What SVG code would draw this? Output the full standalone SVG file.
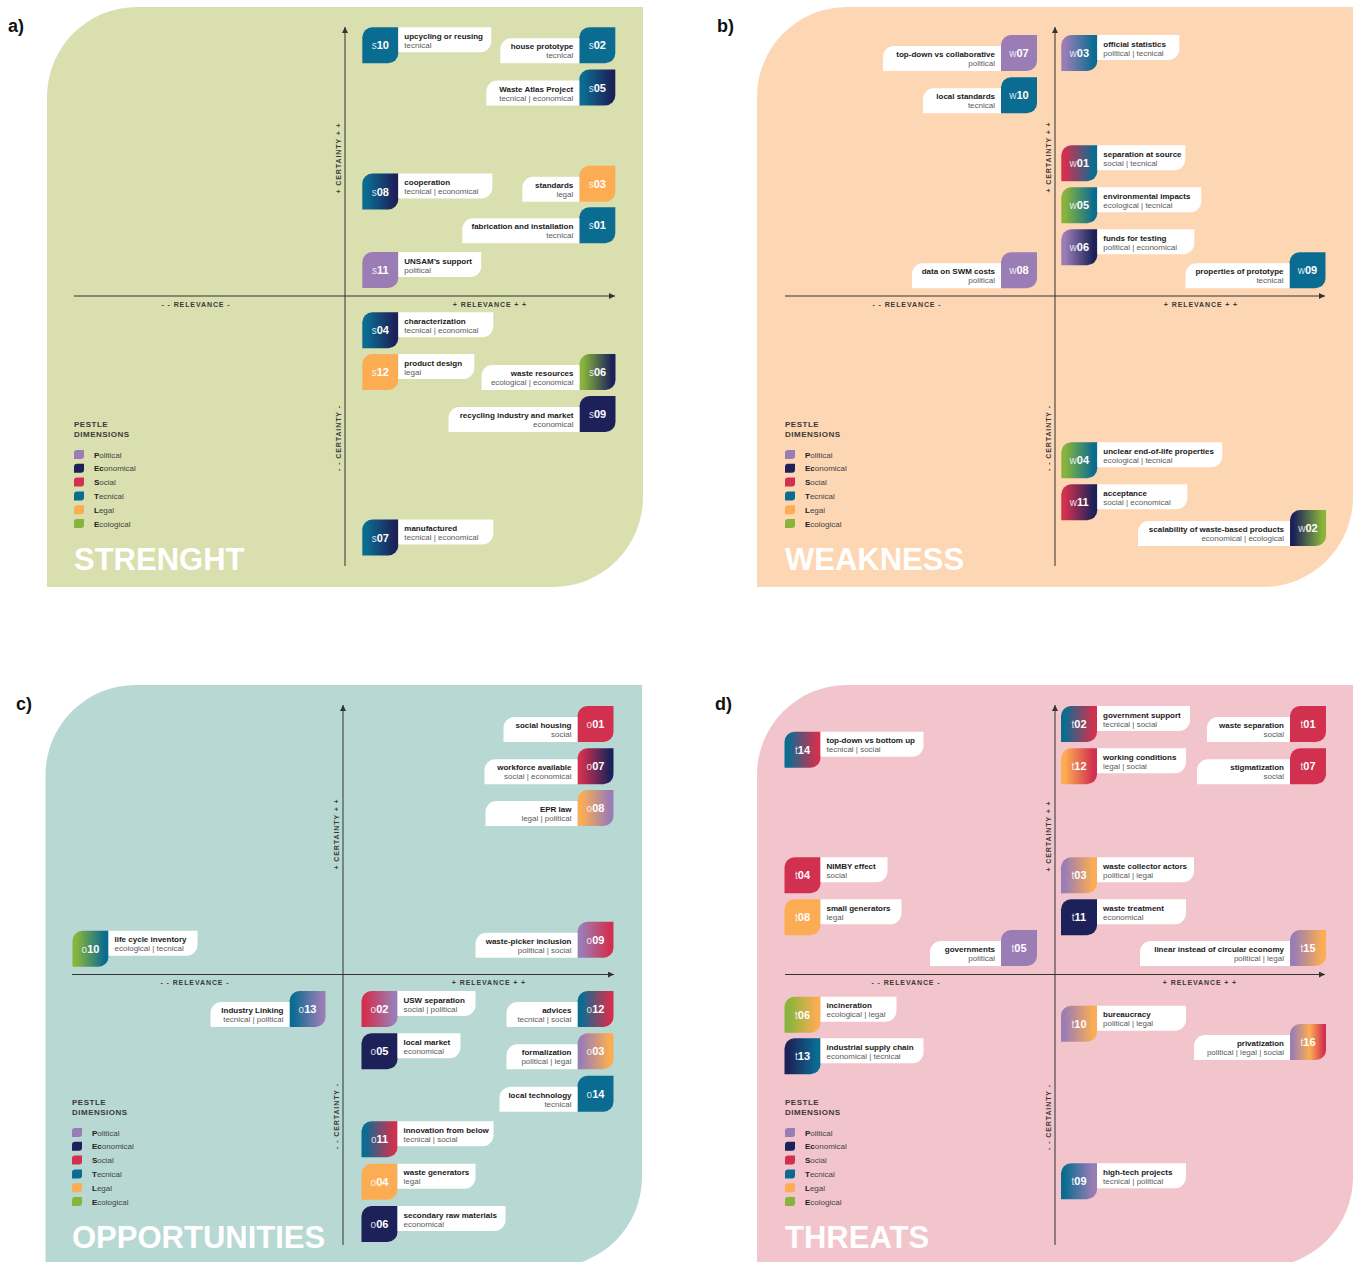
<svg xmlns="http://www.w3.org/2000/svg" xmlns:xlink="http://www.w3.org/1999/xlink" width="1356" height="1262" viewBox="0 0 1356 1262">
<style>
text{font-family:"Liberation Sans",Arial,sans-serif}
.P{fill:#9a7db5}.E{fill:#1c2259}.S{fill:#d2304f}.T{fill:#0b6c92}.L{fill:#fcad53}.G{fill:#88b43c}
.gTE{fill:url(#gTE)}.gGE{fill:url(#gGE)}.gPT{fill:url(#gPT)}.gST{fill:url(#gST)}.gGT{fill:url(#gGT)}.gPE{fill:url(#gPE)}.gSE{fill:url(#gSE)}.gEG{fill:url(#gEG)}.gLP{fill:url(#gLP)}.gPS{fill:url(#gPS)}.gTP{fill:url(#gTP)}.gSP{fill:url(#gSP)}.gTS{fill:url(#gTS)}.gPL{fill:url(#gPL)}.gLS{fill:url(#gLS)}.gGL{fill:url(#gGL)}.gET{fill:url(#gET)}.gPLS{fill:url(#gPLS)}
.lb{fill:#fff}
.t1{font-size:8px;font-weight:bold;fill:#1a1a1a}
.t2{font-size:8px;fill:#5a5a5a}
.r{text-anchor:end}
.bt{font-size:11px;font-weight:bold;fill:#fff;text-anchor:middle}
.bp{font-weight:normal;font-size:10px;fill-opacity:.85}
.ax{stroke:#333;stroke-width:1;fill:none}
.al{font-size:7px;font-weight:bold;fill:#3a3a3a;letter-spacing:.9px;text-anchor:middle}
.lh{font-size:8px;font-weight:bold;fill:#3a3a3a;letter-spacing:.5px}
.li{font-size:8px;fill:#444}
.li tspan{font-weight:bold;fill:#222}
.ttl{font-size:31px;font-weight:bold;fill:#fff}
.pl{font-size:18px;font-weight:bold;fill:#111}
</style>
<defs>
<path id="bd" d="M10,0H36V26A10,10 0 0 1 26,36H0V10A10,10 0 0 1 10,0Z"/>
<path id="lq" d="M3,0H10V6A3,3 0 0 1 7,9H0V3A3,3 0 0 1 3,0Z"/>
<marker id="ar" markerWidth="7" markerHeight="6" refX="6" refY="3" orient="auto" markerUnits="userSpaceOnUse"><path d="M0,0L6,3L0,6Z" fill="#333"/></marker>
<linearGradient id="gTE"><stop offset=".1" stop-color="#0b6c92"/><stop offset=".9" stop-color="#1c2259"/></linearGradient>
<linearGradient id="gGE"><stop offset=".1" stop-color="#88b43c"/><stop offset=".9" stop-color="#1c2259"/></linearGradient>
<linearGradient id="gPT"><stop offset=".1" stop-color="#9a7db5"/><stop offset=".9" stop-color="#0b6c92"/></linearGradient>
<linearGradient id="gST"><stop offset=".1" stop-color="#d2304f"/><stop offset=".9" stop-color="#0b6c92"/></linearGradient>
<linearGradient id="gGT"><stop offset=".1" stop-color="#88b43c"/><stop offset=".9" stop-color="#0b6c92"/></linearGradient>
<linearGradient id="gPE"><stop offset=".1" stop-color="#9a7db5"/><stop offset=".9" stop-color="#1c2259"/></linearGradient>
<linearGradient id="gSE"><stop offset=".1" stop-color="#d2304f"/><stop offset=".9" stop-color="#1c2259"/></linearGradient>
<linearGradient id="gEG"><stop offset=".1" stop-color="#1c2259"/><stop offset=".9" stop-color="#88b43c"/></linearGradient>
<linearGradient id="gLP"><stop offset=".1" stop-color="#fcad53"/><stop offset=".9" stop-color="#9a7db5"/></linearGradient>
<linearGradient id="gPS"><stop offset=".1" stop-color="#9a7db5"/><stop offset=".9" stop-color="#d2304f"/></linearGradient>
<linearGradient id="gTP"><stop offset=".1" stop-color="#0b6c92"/><stop offset=".9" stop-color="#9a7db5"/></linearGradient>
<linearGradient id="gSP"><stop offset=".1" stop-color="#d2304f"/><stop offset=".9" stop-color="#9a7db5"/></linearGradient>
<linearGradient id="gTS"><stop offset=".1" stop-color="#0b6c92"/><stop offset=".9" stop-color="#d2304f"/></linearGradient>
<linearGradient id="gPL"><stop offset=".1" stop-color="#9a7db5"/><stop offset=".9" stop-color="#fcad53"/></linearGradient>
<linearGradient id="gLS"><stop offset=".1" stop-color="#fcad53"/><stop offset=".9" stop-color="#d2304f"/></linearGradient>
<linearGradient id="gGL"><stop offset=".1" stop-color="#88b43c"/><stop offset=".9" stop-color="#fcad53"/></linearGradient>
<linearGradient id="gET"><stop offset=".1" stop-color="#1c2259"/><stop offset=".9" stop-color="#0b6c92"/></linearGradient>
<linearGradient id="gPLS"><stop offset=".05" stop-color="#9a7db5"/><stop offset=".55" stop-color="#fcad53"/><stop offset=".95" stop-color="#d2304f"/></linearGradient>
</defs>
<rect width="1356" height="1262" fill="#fff"/>

<g id="panels">
<path fill="#d9dfae" d="M47,97A90,90 0 0 1 137,7H643V497A90,90 0 0 1 553,587H47Z"/>
<path fill="#fdd6b4" d="M757,97A90,90 0 0 1 847,7H1353V497A90,90 0 0 1 1263,587H757Z"/>
<path fill="#b8d8d3" d="M45.5,775A90,90 0 0 1 135.5,685H642V1177A90,90 0 0 1 552,1267H45.5Z"/>
<path fill="#f2c4cb" d="M757,775A90,90 0 0 1 847,685H1353V1177A90,90 0 0 1 1263,1267H757Z"/>
<text class="pl" x="8" y="32">a)</text>
<text class="pl" x="717" y="32">b)</text>
<text class="pl" x="16" y="710">c)</text>
<text class="pl" x="715" y="710">d)</text>
<text class="ttl" x="74" y="570">STRENGHT</text>
<text class="ttl" x="785" y="570">WEAKNESS</text>
<text class="ttl" x="72" y="1248">OPPORTUNITIES</text>
<text class="ttl" x="785" y="1248">THREATS</text>
</g>

<g id="axes">
<line class="ax" x1="345" y1="566" x2="345" y2="27" marker-end="url(#ar)"/>
<line class="ax" x1="74" y1="296" x2="615" y2="296" marker-end="url(#ar)"/>
<line class="ax" x1="1055" y1="566" x2="1055" y2="27" marker-end="url(#ar)"/>
<line class="ax" x1="785" y1="296" x2="1325" y2="296" marker-end="url(#ar)"/>
<line class="ax" x1="343" y1="1245" x2="343" y2="705" marker-end="url(#ar)"/>
<line class="ax" x1="72" y1="974.5" x2="614" y2="974.5" marker-end="url(#ar)"/>
<line class="ax" x1="1055" y1="1245" x2="1055" y2="705" marker-end="url(#ar)"/>
<line class="ax" x1="785" y1="974.5" x2="1325" y2="974.5" marker-end="url(#ar)"/>
</g>

<g id="axis-labels">
<text class="al" x="196" y="306.5">- - RELEVANCE -</text>
<text class="al" x="490" y="306.5">+ RELEVANCE + +</text>
<text class="al" transform="translate(341,158) rotate(-90)">+ CERTAINTY + +</text>
<text class="al" transform="translate(341,438) rotate(-90)">- - CERTAINTY -</text>
<text class="al" x="907" y="306.5">- - RELEVANCE -</text>
<text class="al" x="1201" y="306.5">+ RELEVANCE + +</text>
<text class="al" transform="translate(1051,157) rotate(-90)">+ CERTAINTY + +</text>
<text class="al" transform="translate(1051,438) rotate(-90)">- - CERTAINTY -</text>
<text class="al" x="195" y="984.5">- - RELEVANCE -</text>
<text class="al" x="489" y="984.5">+ RELEVANCE + +</text>
<text class="al" transform="translate(339,834) rotate(-90)">+ CERTAINTY + +</text>
<text class="al" transform="translate(339,1116) rotate(-90)">- - CERTAINTY -</text>
<text class="al" x="906" y="984.5">- - RELEVANCE -</text>
<text class="al" x="1200" y="984.5">+ RELEVANCE + +</text>
<text class="al" transform="translate(1051,836) rotate(-90)">+ CERTAINTY + +</text>
<text class="al" transform="translate(1051,1117) rotate(-90)">- - CERTAINTY -</text>
</g>

<g id="legend-a" transform="translate(74,0)">
<text class="lh" x="0" y="427">PESTLE</text><text class="lh" x="0" y="436.5">DIMENSIONS</text>
<use href="#lq" class="P" y="450"/><text class="li" x="20" y="457.5"><tspan>P</tspan>olitical</text>
<use href="#lq" class="E" y="463.8"/><text class="li" x="20" y="471.3"><tspan>Ec</tspan>onomical</text>
<use href="#lq" class="S" y="477.6"/><text class="li" x="20" y="485.1"><tspan>S</tspan>ocial</text>
<use href="#lq" class="T" y="491.4"/><text class="li" x="20" y="498.9"><tspan>T</tspan>ecnical</text>
<use href="#lq" class="L" y="505.2"/><text class="li" x="20" y="512.7"><tspan>L</tspan>egal</text>
<use href="#lq" class="G" y="519"/><text class="li" x="20" y="526.5"><tspan>E</tspan>cological</text>
</g>
<g id="legend-b" transform="translate(785,0)">
<text class="lh" x="0" y="427">PESTLE</text><text class="lh" x="0" y="436.5">DIMENSIONS</text>
<use href="#lq" class="P" y="450"/><text class="li" x="20" y="457.5"><tspan>P</tspan>olitical</text>
<use href="#lq" class="E" y="463.8"/><text class="li" x="20" y="471.3"><tspan>Ec</tspan>onomical</text>
<use href="#lq" class="S" y="477.6"/><text class="li" x="20" y="485.1"><tspan>S</tspan>ocial</text>
<use href="#lq" class="T" y="491.4"/><text class="li" x="20" y="498.9"><tspan>T</tspan>ecnical</text>
<use href="#lq" class="L" y="505.2"/><text class="li" x="20" y="512.7"><tspan>L</tspan>egal</text>
<use href="#lq" class="G" y="519"/><text class="li" x="20" y="526.5"><tspan>E</tspan>cological</text>
</g>
<g id="legend-c" transform="translate(72,678)">
<text class="lh" x="0" y="427">PESTLE</text><text class="lh" x="0" y="436.5">DIMENSIONS</text>
<use href="#lq" class="P" y="450"/><text class="li" x="20" y="457.5"><tspan>P</tspan>olitical</text>
<use href="#lq" class="E" y="463.8"/><text class="li" x="20" y="471.3"><tspan>Ec</tspan>onomical</text>
<use href="#lq" class="S" y="477.6"/><text class="li" x="20" y="485.1"><tspan>S</tspan>ocial</text>
<use href="#lq" class="T" y="491.4"/><text class="li" x="20" y="498.9"><tspan>T</tspan>ecnical</text>
<use href="#lq" class="L" y="505.2"/><text class="li" x="20" y="512.7"><tspan>L</tspan>egal</text>
<use href="#lq" class="G" y="519"/><text class="li" x="20" y="526.5"><tspan>E</tspan>cological</text>
</g>
<g id="legend-d" transform="translate(785,678)">
<text class="lh" x="0" y="427">PESTLE</text><text class="lh" x="0" y="436.5">DIMENSIONS</text>
<use href="#lq" class="P" y="450"/><text class="li" x="20" y="457.5"><tspan>P</tspan>olitical</text>
<use href="#lq" class="E" y="463.8"/><text class="li" x="20" y="471.3"><tspan>Ec</tspan>onomical</text>
<use href="#lq" class="S" y="477.6"/><text class="li" x="20" y="485.1"><tspan>S</tspan>ocial</text>
<use href="#lq" class="T" y="491.4"/><text class="li" x="20" y="498.9"><tspan>T</tspan>ecnical</text>
<use href="#lq" class="L" y="505.2"/><text class="li" x="20" y="512.7"><tspan>L</tspan>egal</text>
<use href="#lq" class="G" y="519"/><text class="li" x="20" y="526.5"><tspan>E</tspan>cological</text>
</g>

<!-- Panel a: STRENGHT -->
<g id="s10" transform="translate(362.3,27.3)"><use href="#bd" class="T"/><path class="lb" d="M36,0H129V14A11,11 0 0 1 118,25H36Z"/><text class="bt" x="18" y="22"><tspan class="bp">s</tspan>10</text><text class="t1" x="42" y="11.5">upcycling or reusing</text><text class="t2" x="42" y="20.5">tecnical</text></g>
<g id="s02" transform="translate(579.3,27.3)"><use href="#bd" class="T"/><path class="lb" d="M-68,11H0V36H-79V22A11,11 0 0 1 -68,11Z"/><text class="bt" x="18" y="22"><tspan class="bp">s</tspan>02</text><text class="t1 r" x="-6" y="22">house prototype</text><text class="t2 r" x="-6" y="31">tecnical</text></g>
<g id="s05" transform="translate(579.3,69.5)"><use href="#bd" class="gTE"/><path class="lb" d="M-82,11H0V36H-93V22A11,11 0 0 1 -82,11Z"/><text class="bt" x="18" y="22"><tspan class="bp">s</tspan>05</text><text class="t1 r" x="-6" y="22">Waste Atlas Project</text><text class="t2 r" x="-6" y="31">tecnical | economical</text></g>
<g id="s08" transform="translate(362.3,173.5)"><use href="#bd" class="gTE"/><path class="lb" d="M36,0H130V14A11,11 0 0 1 119,25H36Z"/><text class="bt" x="18" y="22"><tspan class="bp">s</tspan>08</text><text class="t1" x="42" y="11.5">cooperation</text><text class="t2" x="42" y="20.5">tecnical | economical</text></g>
<g id="s03" transform="translate(579.3,165.7)"><use href="#bd" class="L"/><path class="lb" d="M-46,11H0V36H-57V22A11,11 0 0 1 -46,11Z"/><text class="bt" x="18" y="22"><tspan class="bp">s</tspan>03</text><text class="t1 r" x="-6" y="22">standards</text><text class="t2 r" x="-6" y="31">legal</text></g>
<g id="s01" transform="translate(579.3,207.3)"><use href="#bd" class="T"/><path class="lb" d="M-106,11H0V36H-117V22A11,11 0 0 1 -106,11Z"/><text class="bt" x="18" y="22"><tspan class="bp">s</tspan>01</text><text class="t1 r" x="-6" y="22">fabrication and installation</text><text class="t2 r" x="-6" y="31">tecnical</text></g>
<g id="s11" transform="translate(362.3,252)"><use href="#bd" class="P"/><path class="lb" d="M36,0H119V14A11,11 0 0 1 108,25H36Z"/><text class="bt" x="18" y="22"><tspan class="bp">s</tspan>11</text><text class="t1" x="42" y="11.5">UNSAM’s support</text><text class="t2" x="42" y="20.5">political</text></g>
<g id="s04" transform="translate(362.3,312.3)"><use href="#bd" class="gTE"/><path class="lb" d="M36,0H131V14A11,11 0 0 1 120,25H36Z"/><text class="bt" x="18" y="22"><tspan class="bp">s</tspan>04</text><text class="t1" x="42" y="11.5">characterization</text><text class="t2" x="42" y="20.5">tecnical | economical</text></g>
<g id="s12" transform="translate(362.3,354)"><use href="#bd" class="L"/><path class="lb" d="M36,0H112V14A11,11 0 0 1 101,25H36Z"/><text class="bt" x="18" y="22"><tspan class="bp">s</tspan>12</text><text class="t1" x="42" y="11.5">product design</text><text class="t2" x="42" y="20.5">legal</text></g>
<g id="s06" transform="translate(579.5,354)"><use href="#bd" class="gGE"/><path class="lb" d="M-87,11H0V36H-98V22A11,11 0 0 1 -87,11Z"/><text class="bt" x="18" y="22"><tspan class="bp">s</tspan>06</text><text class="t1 r" x="-6" y="22">waste resources</text><text class="t2 r" x="-6" y="31">ecological | economical</text></g>
<g id="s09" transform="translate(579.5,396)"><use href="#bd" class="E"/><path class="lb" d="M-120,11H0V36H-131V22A11,11 0 0 1 -120,11Z"/><text class="bt" x="18" y="22"><tspan class="bp">s</tspan>09</text><text class="t1 r" x="-6" y="22">recycling industry and market</text><text class="t2 r" x="-6" y="31">economical</text></g>
<g id="s07" transform="translate(362.3,519.5)"><use href="#bd" class="gTE"/><path class="lb" d="M36,0H131V14A11,11 0 0 1 120,25H36Z"/><text class="bt" x="18" y="22"><tspan class="bp">s</tspan>07</text><text class="t1" x="42" y="11.5">manufactured</text><text class="t2" x="42" y="20.5">tecnical | economical</text></g>

<!-- Panel b: WEAKNESS -->
<g id="w07" transform="translate(1001,35)"><use href="#bd" class="P"/><path class="lb" d="M-107,11H0V36H-118V22A11,11 0 0 1 -107,11Z"/><text class="bt" x="18" y="22"><tspan class="bp">w</tspan>07</text><text class="t1 r" x="-6" y="22">top-down vs collaborative</text><text class="t2 r" x="-6" y="31">political</text></g>
<g id="w10" transform="translate(1001,77.3)"><use href="#bd" class="T"/><path class="lb" d="M-67,11H0V36H-78V22A11,11 0 0 1 -67,11Z"/><text class="bt" x="18" y="22"><tspan class="bp">w</tspan>10</text><text class="t1 r" x="-6" y="22">local standards</text><text class="t2 r" x="-6" y="31">tecnical</text></g>
<g id="w08" transform="translate(1001,252.3)"><use href="#bd" class="P"/><path class="lb" d="M-78,11H0V36H-89V22A11,11 0 0 1 -78,11Z"/><text class="bt" x="18" y="22"><tspan class="bp">w</tspan>08</text><text class="t1 r" x="-6" y="22">data on SWM costs</text><text class="t2 r" x="-6" y="31">political</text></g>
<g id="w03" transform="translate(1061.3,35)"><use href="#bd" class="gPT"/><path class="lb" d="M36,0H118V14A11,11 0 0 1 107,25H36Z"/><text class="bt" x="18" y="22"><tspan class="bp">w</tspan>03</text><text class="t1" x="42" y="11.5">official statistics</text><text class="t2" x="42" y="20.5">political | tecnical</text></g>
<g id="w01" transform="translate(1061.3,145.3)"><use href="#bd" class="gST"/><path class="lb" d="M36,0H124V14A11,11 0 0 1 113,25H36Z"/><text class="bt" x="18" y="22"><tspan class="bp">w</tspan>01</text><text class="t1" x="42" y="11.5">separation at source</text><text class="t2" x="42" y="20.5">social | tecnical</text></g>
<g id="w05" transform="translate(1061.3,187.3)"><use href="#bd" class="gGT"/><path class="lb" d="M36,0H140V14A11,11 0 0 1 129,25H36Z"/><text class="bt" x="18" y="22"><tspan class="bp">w</tspan>05</text><text class="t1" x="42" y="11.5">environmental impacts</text><text class="t2" x="42" y="20.5">ecological | tecnical</text></g>
<g id="w06" transform="translate(1061.3,229.3)"><use href="#bd" class="gPE"/><path class="lb" d="M36,0H133V14A11,11 0 0 1 122,25H36Z"/><text class="bt" x="18" y="22"><tspan class="bp">w</tspan>06</text><text class="t1" x="42" y="11.5">funds for testing</text><text class="t2" x="42" y="20.5">political | economical</text></g>
<g id="w09" transform="translate(1289.5,252.3)"><use href="#bd" class="T"/><path class="lb" d="M-93,11H0V36H-104V22A11,11 0 0 1 -93,11Z"/><text class="bt" x="18" y="22"><tspan class="bp">w</tspan>09</text><text class="t1 r" x="-6" y="22">properties of prototype</text><text class="t2 r" x="-6" y="31">tecnical</text></g>
<g id="w04" transform="translate(1061.3,442.3)"><use href="#bd" class="gGT"/><path class="lb" d="M36,0H161V14A11,11 0 0 1 150,25H36Z"/><text class="bt" x="18" y="22"><tspan class="bp">w</tspan>04</text><text class="t1" x="42" y="11.5">unclear end-of-life properties</text><text class="t2" x="42" y="20.5">ecological | tecnical</text></g>
<g id="w11" transform="translate(1061.3,484.3)"><use href="#bd" class="gSE"/><path class="lb" d="M36,0H126V14A11,11 0 0 1 115,25H36Z"/><text class="bt" x="18" y="22"><tspan class="bp">w</tspan>11</text><text class="t1" x="42" y="11.5">acceptance</text><text class="t2" x="42" y="20.5">social | economical</text></g>
<g id="w02" transform="translate(1290,510)"><use href="#bd" class="gEG"/><path class="lb" d="M-141,11H0V36H-152V22A11,11 0 0 1 -141,11Z"/><text class="bt" x="18" y="22"><tspan class="bp">w</tspan>02</text><text class="t1 r" x="-6" y="22">scalability of waste-based products</text><text class="t2 r" x="-6" y="31">economical | ecological</text></g>

<!-- Panel c: OPPORTUNITIES -->
<g id="o01" transform="translate(577.5,706)"><use href="#bd" class="S"/><path class="lb" d="M-63,11H0V36H-74V22A11,11 0 0 1 -63,11Z"/><text class="bt" x="18" y="22"><tspan class="bp">o</tspan>01</text><text class="t1 r" x="-6" y="22">social housing</text><text class="t2 r" x="-6" y="31">social</text></g>
<g id="o07" transform="translate(577.5,748.3)"><use href="#bd" class="gSE"/><path class="lb" d="M-82,11H0V36H-93V22A11,11 0 0 1 -82,11Z"/><text class="bt" x="18" y="22"><tspan class="bp">o</tspan>07</text><text class="t1 r" x="-6" y="22">workforce available</text><text class="t2 r" x="-6" y="31">social | economical</text></g>
<g id="o08" transform="translate(577.5,790)"><use href="#bd" class="gLP"/><path class="lb" d="M-81,11H0V36H-92V22A11,11 0 0 1 -81,11Z"/><text class="bt" x="18" y="22"><tspan class="bp">o</tspan>08</text><text class="t1 r" x="-6" y="22">EPR law</text><text class="t2 r" x="-6" y="31">legal | political</text></g>
<g id="o09" transform="translate(577.5,921.7)"><use href="#bd" class="gPS"/><path class="lb" d="M-91,11H0V36H-102V22A11,11 0 0 1 -91,11Z"/><text class="bt" x="18" y="22"><tspan class="bp">o</tspan>09</text><text class="t1 r" x="-6" y="22">waste-picker inclusion</text><text class="t2 r" x="-6" y="31">political | social</text></g>
<g id="o10" transform="translate(72.5,930.7)"><use href="#bd" class="gGT"/><path class="lb" d="M36,0H125V14A11,11 0 0 1 114,25H36Z"/><text class="bt" x="18" y="22"><tspan class="bp">o</tspan>10</text><text class="t1" x="42" y="11.5">life cycle inventory</text><text class="t2" x="42" y="20.5">ecological | tecnical</text></g>
<g id="o13" transform="translate(289.5,991)"><use href="#bd" class="gTP"/><path class="lb" d="M-68,11H0V36H-79V22A11,11 0 0 1 -68,11Z"/><text class="bt" x="18" y="22"><tspan class="bp">o</tspan>13</text><text class="t1 r" x="-6" y="22">Industry Linking</text><text class="t2 r" x="-6" y="31">tecnical | political</text></g>
<g id="o02" transform="translate(361.5,991)"><use href="#bd" class="gSP"/><path class="lb" d="M36,0H114V14A11,11 0 0 1 103,25H36Z"/><text class="bt" x="18" y="22"><tspan class="bp">o</tspan>02</text><text class="t1" x="42" y="11.5">USW separation</text><text class="t2" x="42" y="20.5">social | political</text></g>
<g id="o12" transform="translate(577.5,991)"><use href="#bd" class="gTS"/><path class="lb" d="M-60,11H0V36H-71V22A11,11 0 0 1 -60,11Z"/><text class="bt" x="18" y="22"><tspan class="bp">o</tspan>12</text><text class="t1 r" x="-6" y="22">advices</text><text class="t2 r" x="-6" y="31">tecnical | social</text></g>
<g id="o05" transform="translate(361.5,1033.3)"><use href="#bd" class="E"/><path class="lb" d="M36,0H99V14A11,11 0 0 1 88,25H36Z"/><text class="bt" x="18" y="22"><tspan class="bp">o</tspan>05</text><text class="t1" x="42" y="11.5">local market</text><text class="t2" x="42" y="20.5">economical</text></g>
<g id="o03" transform="translate(577.5,1033.3)"><use href="#bd" class="gPL"/><path class="lb" d="M-60,11H0V36H-71V22A11,11 0 0 1 -60,11Z"/><text class="bt" x="18" y="22"><tspan class="bp">o</tspan>03</text><text class="t1 r" x="-6" y="22">formalization</text><text class="t2 r" x="-6" y="31">political | legal</text></g>
<g id="o14" transform="translate(577.5,1075.7)"><use href="#bd" class="T"/><path class="lb" d="M-67,11H0V36H-78V22A11,11 0 0 1 -67,11Z"/><text class="bt" x="18" y="22"><tspan class="bp">o</tspan>14</text><text class="t1 r" x="-6" y="22">local technology</text><text class="t2 r" x="-6" y="31">tecnical</text></g>
<g id="o11" transform="translate(361.5,1121.3)"><use href="#bd" class="gTS"/><path class="lb" d="M36,0H132V14A11,11 0 0 1 121,25H36Z"/><text class="bt" x="18" y="22"><tspan class="bp">o</tspan>11</text><text class="t1" x="42" y="11.5">innovation from below</text><text class="t2" x="42" y="20.5">tecnical | social</text></g>
<g id="o04" transform="translate(361.5,1163.7)"><use href="#bd" class="L"/><path class="lb" d="M36,0H114V14A11,11 0 0 1 103,25H36Z"/><text class="bt" x="18" y="22"><tspan class="bp">o</tspan>04</text><text class="t1" x="42" y="11.5">waste generators</text><text class="t2" x="42" y="20.5">legal</text></g>
<g id="o06" transform="translate(361.5,1206)"><use href="#bd" class="E"/><path class="lb" d="M36,0H144V14A11,11 0 0 1 133,25H36Z"/><text class="bt" x="18" y="22"><tspan class="bp">o</tspan>06</text><text class="t1" x="42" y="11.5">secondary raw materials</text><text class="t2" x="42" y="20.5">economical</text></g>

<!-- Panel d: THREATS -->
<g id="t02" transform="translate(1061,706)"><use href="#bd" class="gTS"/><path class="lb" d="M36,0H129V14A11,11 0 0 1 118,25H36Z"/><text class="bt" x="18" y="22"><tspan class="bp">t</tspan>02</text><text class="t1" x="42" y="11.5">government support</text><text class="t2" x="42" y="20.5">tecnical | social</text></g>
<g id="t01" transform="translate(1290,706)"><use href="#bd" class="S"/><path class="lb" d="M-72,11H0V36H-83V22A11,11 0 0 1 -72,11Z"/><text class="bt" x="18" y="22"><tspan class="bp">t</tspan>01</text><text class="t1 r" x="-6" y="22">waste separation</text><text class="t2 r" x="-6" y="31">social</text></g>
<g id="t14" transform="translate(784.5,731.7)"><use href="#bd" class="gTS"/><path class="lb" d="M36,0H139V14A11,11 0 0 1 128,25H36Z"/><text class="bt" x="18" y="22"><tspan class="bp">t</tspan>14</text><text class="t1" x="42" y="11.5">top-down vs bottom up</text><text class="t2" x="42" y="20.5">tecnical | social</text></g>
<g id="t12" transform="translate(1061,748.3)"><use href="#bd" class="gLS"/><path class="lb" d="M36,0H125V14A11,11 0 0 1 114,25H36Z"/><text class="bt" x="18" y="22"><tspan class="bp">t</tspan>12</text><text class="t1" x="42" y="11.5">working conditions</text><text class="t2" x="42" y="20.5">legal | social</text></g>
<g id="t07" transform="translate(1290,748.3)"><use href="#bd" class="S"/><path class="lb" d="M-82,11H0V36H-93V22A11,11 0 0 1 -82,11Z"/><text class="bt" x="18" y="22"><tspan class="bp">t</tspan>07</text><text class="t1 r" x="-6" y="22">stigmatization</text><text class="t2 r" x="-6" y="31">social</text></g>
<g id="t04" transform="translate(784.5,857.3)"><use href="#bd" class="S"/><path class="lb" d="M36,0H103V14A11,11 0 0 1 92,25H36Z"/><text class="bt" x="18" y="22"><tspan class="bp">t</tspan>04</text><text class="t1" x="42" y="11.5">NIMBY effect</text><text class="t2" x="42" y="20.5">social</text></g>
<g id="t03" transform="translate(1061,857.3)"><use href="#bd" class="gPL"/><path class="lb" d="M36,0H133V14A11,11 0 0 1 122,25H36Z"/><text class="bt" x="18" y="22"><tspan class="bp">t</tspan>03</text><text class="t1" x="42" y="11.5">waste collector actors</text><text class="t2" x="42" y="20.5">political | legal</text></g>
<g id="t08" transform="translate(784.5,899.3)"><use href="#bd" class="L"/><path class="lb" d="M36,0H117V14A11,11 0 0 1 106,25H36Z"/><text class="bt" x="18" y="22"><tspan class="bp">t</tspan>08</text><text class="t1" x="42" y="11.5">small generators</text><text class="t2" x="42" y="20.5">legal</text></g>
<g id="t11" transform="translate(1061,899.3)"><use href="#bd" class="E"/><path class="lb" d="M36,0H125V14A11,11 0 0 1 114,25H36Z"/><text class="bt" x="18" y="22"><tspan class="bp">t</tspan>11</text><text class="t1" x="42" y="11.5">waste treatment</text><text class="t2" x="42" y="20.5">economical</text></g>
<g id="t05" transform="translate(1001,930)"><use href="#bd" class="P"/><path class="lb" d="M-60,11H0V36H-71V22A11,11 0 0 1 -60,11Z"/><text class="bt" x="18" y="22"><tspan class="bp">t</tspan>05</text><text class="t1 r" x="-6" y="22">governments</text><text class="t2 r" x="-6" y="31">political</text></g>
<g id="t15" transform="translate(1290,930)"><use href="#bd" class="gPL"/><path class="lb" d="M-139,11H0V36H-150V22A11,11 0 0 1 -139,11Z"/><text class="bt" x="18" y="22"><tspan class="bp">t</tspan>15</text><text class="t1 r" x="-6" y="22">linear instead of circular economy</text><text class="t2 r" x="-6" y="31">political | legal</text></g>
<g id="t06" transform="translate(784.5,996.7)"><use href="#bd" class="gGL"/><path class="lb" d="M36,0H112V14A11,11 0 0 1 101,25H36Z"/><text class="bt" x="18" y="22"><tspan class="bp">t</tspan>06</text><text class="t1" x="42" y="11.5">incineration</text><text class="t2" x="42" y="20.5">ecological | legal</text></g>
<g id="t13" transform="translate(784.5,1038.3)"><use href="#bd" class="gET"/><path class="lb" d="M36,0H139V14A11,11 0 0 1 128,25H36Z"/><text class="bt" x="18" y="22"><tspan class="bp">t</tspan>13</text><text class="t1" x="42" y="11.5">industrial supply chain</text><text class="t2" x="42" y="20.5">economical | tecnical</text></g>
<g id="t10" transform="translate(1061,1005.7)"><use href="#bd" class="gPL"/><path class="lb" d="M36,0H125V14A11,11 0 0 1 114,25H36Z"/><text class="bt" x="18" y="22"><tspan class="bp">t</tspan>10</text><text class="t1" x="42" y="11.5">bureaucracy</text><text class="t2" x="42" y="20.5">political | legal</text></g>
<g id="t16" transform="translate(1290,1024)"><use href="#bd" class="gPLS"/><path class="lb" d="M-85,11H0V36H-96V22A11,11 0 0 1 -85,11Z"/><text class="bt" x="18" y="22"><tspan class="bp">t</tspan>16</text><text class="t1 r" x="-6" y="22">privatization</text><text class="t2 r" x="-6" y="31">political | legal | social</text></g>
<g id="t09" transform="translate(1061,1163.3)"><use href="#bd" class="gTP"/><path class="lb" d="M36,0H125V14A11,11 0 0 1 114,25H36Z"/><text class="bt" x="18" y="22"><tspan class="bp">t</tspan>09</text><text class="t1" x="42" y="11.5">high-tech projects</text><text class="t2" x="42" y="20.5">tecnical | political</text></g>
</svg>
